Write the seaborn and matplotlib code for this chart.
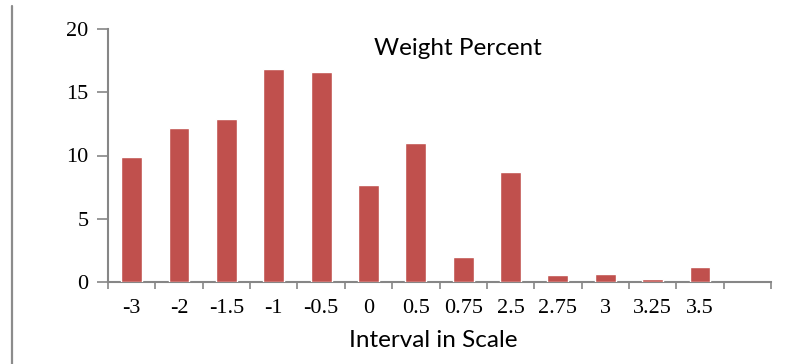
"""
Weight Percent by interval in scale — bar chart
"""

import matplotlib
matplotlib.use("Agg")
import matplotlib.pyplot as plt
from matplotlib.lines import Line2D
import numpy as np
import pandas as pd
import seaborn as sns

# ── Data ───────────────────────────────────────────────────────────────────
intervals = ["-3", "-2", "-1.5", "-1", "-0.5", "0", "0.5", "0.75",
             "2.5", "2.75", "3", "3.25", "3.5"]
weight_pct = [9.85, 12.2, 12.85, 16.8, 16.6, 7.7, 11.0, 2.0,
              8.7, 0.55, 0.65, 0.2, 1.2]
y_ticks = [0, 5, 10, 15, 20]

df = pd.DataFrame({"interval": intervals, "weight": weight_pct})

# ── Style ──────────────────────────────────────────────────────────────────
sns.set_theme(style="white")
plt.rcParams["font.family"] = ["Liberation Serif", "DejaVu Serif"]
BAR    = "#C0504D"
AXIS   = "#868686"
SANS   = ["Lato", "DejaVu Sans"]

fig = plt.figure(figsize=(8.08, 3.64), dpi=100)
ax = fig.add_axes([108 / 808, 1 - 282 / 364, 663 / 808, 253 / 364])

sns.barplot(data=df, x="interval", y="weight", order=intervals,
            color=BAR, width=0.44, saturation=1, ax=ax, zorder=3)

ax.set_xlim(-0.5, len(intervals) + 0.5)
ax.set_ylim(0, 20)
ax.set_yticks(y_ticks)
ax.set_xticks(range(len(intervals)))
ax.set_xticklabels(intervals)
ax.set_xticks(np.arange(-0.5, len(intervals) + 1, 1), minor=True)

ax.tick_params(axis="x", which="major", length=0, pad=12,
               labelsize=16, labelcolor="black")
ax.tick_params(axis="x", which="minor", length=5, width=1.2, color=AXIS,
               direction="out", bottom=True)
ax.tick_params(axis="y", which="major", length=8, width=1.2, color=AXIS,
               direction="out", left=True, pad=6,
               labelsize=16, labelcolor="black")
ax.grid(False)

for side in ["top", "right"]:
    ax.spines[side].set_visible(False)
for side in ["left", "bottom"]:
    ax.spines[side].set_color(AXIS)
    ax.spines[side].set_linewidth(1.5)
    ax.spines[side].set_zorder(2)

ax.set_ylabel("")
ax.set_xlabel("Interval in Scale", family=SANS, fontsize=17.5, color="black")
ax.xaxis.label.set_va("baseline")
ax.xaxis.set_label_coords(0.49, -0.257)

ax.text(0.528, 0.897, "Weight Percent", transform=ax.transAxes,
        ha="center", va="baseline", family=SANS, fontsize=17.5, color="black")

# gray frame line on the left edge
fig.add_artist(Line2D([12 / 808, 12 / 808], [0, 1 - 6 / 364],
                      transform=fig.transFigure, color="#8c8c8c", linewidth=1.6))

fig.savefig("out.png", dpi=100)
